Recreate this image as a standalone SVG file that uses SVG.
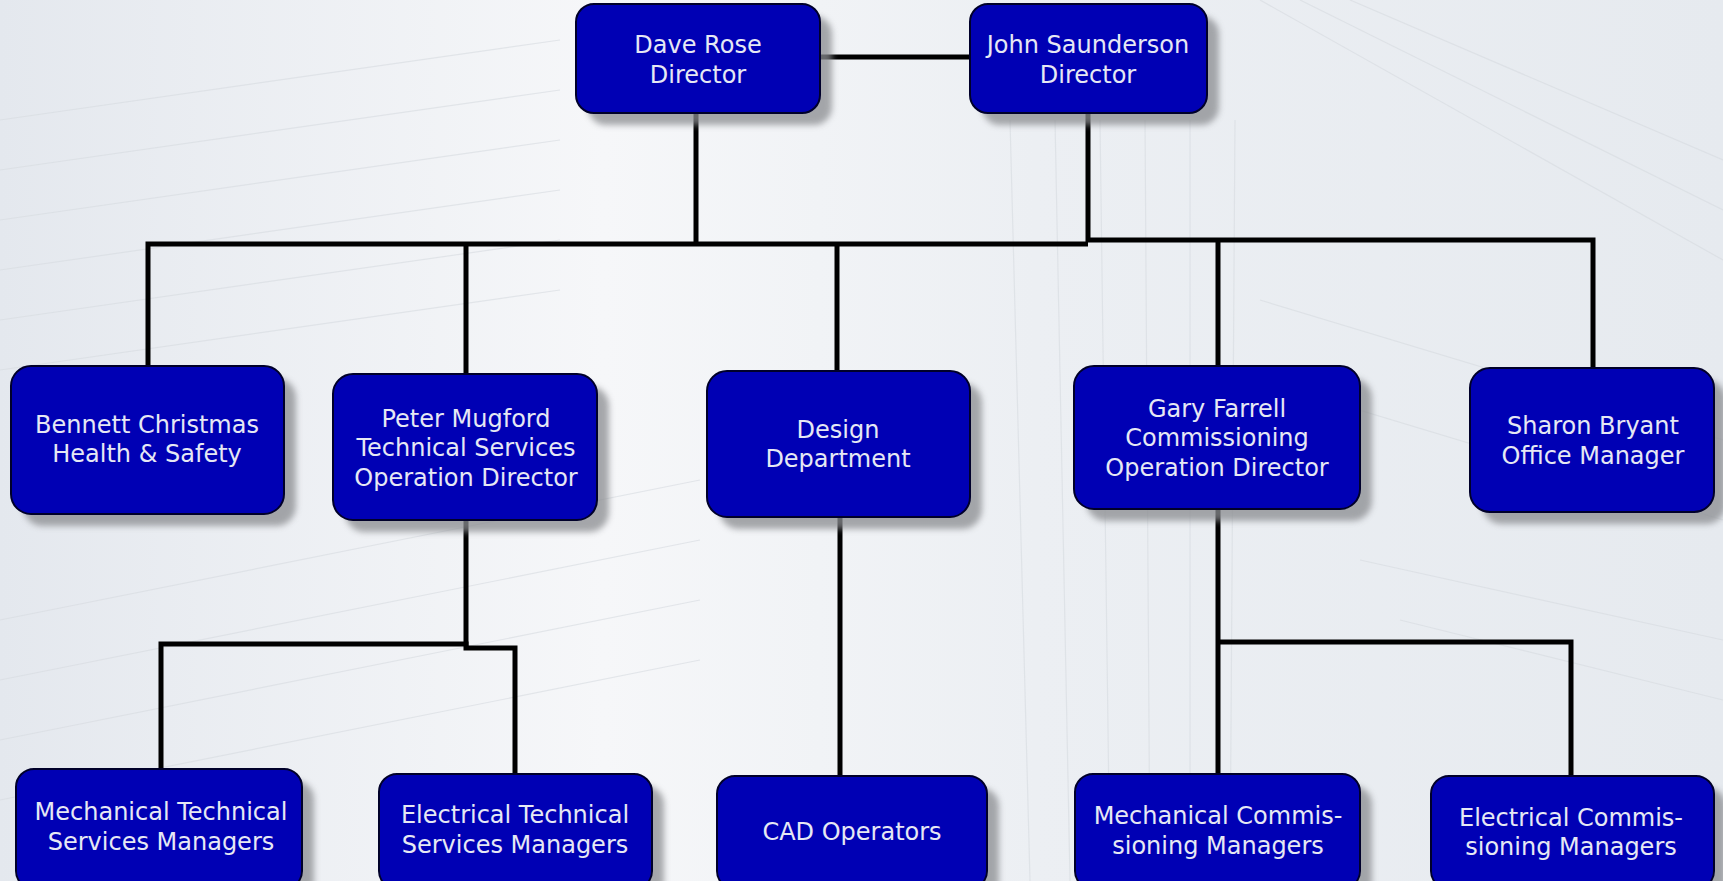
<svg xmlns="http://www.w3.org/2000/svg" width="1723" height="881" viewBox="0 0 1723 881">
<defs>
<linearGradient id="bg" x1="0" y1="0" x2="1" y2="0">
<stop offset="0" stop-color="#e4e8ee"/>
<stop offset="0.35" stop-color="#f6f7f9"/>
<stop offset="0.6" stop-color="#eceff3"/>
<stop offset="1" stop-color="#e6eaef"/>
</linearGradient>
<filter id="sh" x="-10%" y="-10%" width="130%" height="140%">
<feGaussianBlur stdDeviation="3"/>
</filter>
<style>
.box{fill:#0000b4;stroke:#00002a;stroke-width:2}
.shd{fill:#8a8c90;opacity:0.75;filter:url(#sh)}
.t{font-family:"DejaVu Sans",Verdana,sans-serif;font-size:24px;fill:#e6e8f4;text-anchor:middle}
.c{fill:none;stroke:#000;stroke-width:5}
.bgl{stroke:#d6dae0;stroke-width:1.2;fill:none;opacity:0.6}
</style>
</defs>
<rect width="1723" height="881" fill="url(#bg)"/>
<g id="background">
<path class="bgl" d="M0 120 L560 40 M0 170 L560 90 M0 220 L560 140 M0 270 L560 190 M0 320 L560 240 M0 370 L560 290 M0 620 L700 480 M0 680 L700 540 M0 740 L700 600 M0 800 L700 660"/>
<path class="bgl" d="M1030 881 L1010 120 M1070 881 L1055 120 M1110 881 L1100 120 M1150 881 L1145 120 M1190 881 L1190 120 M1230 881 L1235 120"/>
<path class="bgl" d="M1260 0 L1723 260 M1300 0 L1723 210 M1350 0 L1723 160 M1260 300 L1723 440 M1260 380 L1723 520 M1360 560 L1723 640 M1400 620 L1723 700"/>
</g>
<g id="connectors">
<path class="c" d="M820 57 H970"/>
<path class="c" d="M696 113 V244"/>
<path class="c" d="M1088 113 V242"/>
<path class="c" d="M148 366 V244 H1088"/>
<path class="c" d="M1086 240 H1593 V368"/>
<path class="c" d="M466 244 V374"/>
<path class="c" d="M837 244 V371"/>
<path class="c" d="M1218 240 V366"/>
<path class="c" d="M466 520 V646"/>
<path class="c" d="M161 769 V644 H466 V648 H515 V774"/>
<path class="c" d="M840 517 V776"/>
<path class="c" d="M1218 509 V774"/>
<path class="c" d="M1218 642 H1571 V776"/>
</g>
<g id="dave-rose">
<rect class="shd" x="588" y="16" width="244" height="109" rx="18"/>
<rect class="box" x="576" y="4" width="244" height="109" rx="18"/>
<text class="t" x="698" y="53">Dave Rose</text>
<text class="t" x="698" y="83">Director</text>
</g>
<g id="john-saunderson">
<rect class="shd" x="982" y="16" width="237" height="109" rx="18"/>
<rect class="box" x="970" y="4" width="237" height="109" rx="18"/>
<text class="t" x="1088" y="53">John Saunderson</text>
<text class="t" x="1088" y="83">Director</text>
</g>
<g id="bennett-christmas">
<rect class="shd" x="23" y="378" width="273" height="148" rx="20"/>
<rect class="box" x="11" y="366" width="273" height="148" rx="20"/>
<text class="t" x="147" y="433">Bennett Christmas</text>
<text class="t" x="147" y="462">Health &amp; Safety</text>
</g>
<g id="peter-mugford">
<rect class="shd" x="345" y="386" width="264" height="146" rx="20"/>
<rect class="box" x="333" y="374" width="264" height="146" rx="20"/>
<text class="t" x="466" y="427">Peter Mugford</text>
<text class="t" x="466" y="456">Technical Services</text>
<text class="t" x="466" y="486">Operation Director</text>
</g>
<g id="design-department">
<rect class="shd" x="719" y="383" width="263" height="146" rx="20"/>
<rect class="box" x="707" y="371" width="263" height="146" rx="20"/>
<text class="t" x="838" y="438">Design</text>
<text class="t" x="838" y="467">Department</text>
</g>
<g id="gary-farrell">
<rect class="shd" x="1086" y="378" width="286" height="143" rx="20"/>
<rect class="box" x="1074" y="366" width="286" height="143" rx="20"/>
<text class="t" x="1217" y="417">Gary Farrell</text>
<text class="t" x="1217" y="446">Commissioning</text>
<text class="t" x="1217" y="476">Operation Director</text>
</g>
<g id="sharon-bryant">
<rect class="shd" x="1482" y="380" width="244" height="144" rx="20"/>
<rect class="box" x="1470" y="368" width="244" height="144" rx="20"/>
<text class="t" x="1593" y="434">Sharon Bryant</text>
<text class="t" x="1593" y="464">Office Manager</text>
</g>
<g id="mech-tech">
<rect class="shd" x="28" y="781" width="286" height="120" rx="18"/>
<rect class="box" x="16" y="769" width="286" height="120" rx="18"/>
<text class="t" x="161" y="820">Mechanical Technical</text>
<text class="t" x="161" y="850">Services Managers</text>
</g>
<g id="elec-tech">
<rect class="shd" x="391" y="786" width="273" height="115" rx="18"/>
<rect class="box" x="379" y="774" width="273" height="115" rx="18"/>
<text class="t" x="515" y="823">Electrical Technical</text>
<text class="t" x="515" y="853">Services Managers</text>
</g>
<g id="cad-operators">
<rect class="shd" x="729" y="788" width="270" height="113" rx="18"/>
<rect class="box" x="717" y="776" width="270" height="113" rx="18"/>
<text class="t" x="852" y="840">CAD Operators</text>
</g>
<g id="mech-commis">
<rect class="shd" x="1087" y="786" width="285" height="115" rx="18"/>
<rect class="box" x="1075" y="774" width="285" height="115" rx="18"/>
<text class="t" x="1218" y="824">Mechanical Commis-</text>
<text class="t" x="1218" y="854">sioning Managers</text>
</g>
<g id="elec-commis">
<rect class="shd" x="1443" y="788" width="283" height="113" rx="18"/>
<rect class="box" x="1431" y="776" width="283" height="113" rx="18"/>
<text class="t" x="1571" y="826">Electrical Commis-</text>
<text class="t" x="1571" y="855">sioning Managers</text>
</g>
</svg>
